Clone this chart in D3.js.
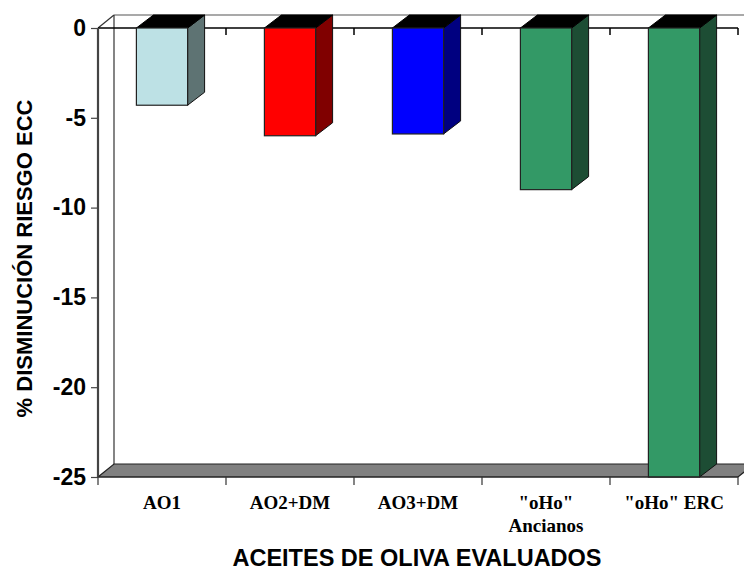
<!DOCTYPE html>
<html>
<head>
<meta charset="utf-8">
<script src="https://cdn.jsdelivr.net/npm/d3@7"></script>
<style>
  html, body { margin: 0; padding: 0; background: #fff; }
  svg { display: block; }
</style>
</head>
<body>
<svg id="chart" width="744" height="571"></svg>
<script>
// Olive oil evaluation: % reduction in cardiovascular risk
const categories = ['AO1', 'AO2+DM', 'AO3+DM', '"oHo" Ancianos', '"oHo" ERC'];
const categoryLines = [['AO1'], ['AO2+DM'], ['AO3+DM'], ['"oHo"', 'Ancianos'], ['"oHo" ERC']];
const values = [-4.3, -6.0, -5.9, -9.0, -25.0];
const frontColors = ['#bde1e5', '#ff0000', '#0000ff', '#339966', '#339966'];
const sideColors = ['#5e7373', '#800000', '#000080', '#1d4d34', '#1d4d34'];
const yTicks = [0, -5, -10, -15, -20, -25];
const yTitle = '% DISMINUCIÓN RIESGO ECC';
const xTitle = 'ACEITES DE OLIVA EVALUADOS';

const svg = d3.select('#chart');
const plotL = 98, plotR = 738, plotT = 28, plotB = 477;
const wdx = 16, wdy = 13;   // wall depth
const bdx = 17, bdy = 13;   // bar depth

const y = d3.scaleLinear().domain([0, -25]).range([plotT, plotB]);
const x = d3.scaleBand().domain(categories).range([plotL, plotR]).padding(0);
const bw = x.bandwidth() * 0.4;

// back wall edges
const walls = svg.append('g').attr('stroke', '#333').attr('stroke-width', 1.2).attr('fill', 'none');
walls.append('line').attr('x1', plotL + wdx).attr('y1', plotT - wdy).attr('x2', plotL + wdx).attr('y2', plotB - wdy);
walls.append('line').attr('x1', plotL + wdx).attr('y1', plotT - wdy).attr('x2', 760).attr('y2', plotT - wdy).attr('stroke', '#555');
walls.append('line').attr('x1', plotL).attr('y1', plotT).attr('x2', plotL + wdx).attr('y2', plotT - wdy);

// floor
svg.append('path')
  .attr('d', `M${plotL},${plotB}L${plotR},${plotB}L${plotR + wdx},${plotB - wdy}L${plotL + wdx},${plotB - wdy}Z`)
  .attr('fill', '#808080').attr('stroke', '#222').attr('stroke-width', 1.2);

// zero line with category separators
const zero = svg.append('g').attr('stroke', '#000').attr('stroke-width', 1.5);
zero.append('line').attr('x1', plotL).attr('y1', y(0)).attr('x2', plotR).attr('y2', y(0));
categories.forEach(c => {
  const bx = x(c) + x.bandwidth();
  zero.append('line').attr('x1', bx).attr('y1', y(0)).attr('x2', bx).attr('y2', y(0) + 7);
});

// 3D bars
const bars = svg.append('g').selectAll('g').data(categories).join('g');
bars.each(function (c, i) {
  const g = d3.select(this);
  const x0 = x(c) + (x.bandwidth() - bw) / 2;
  const x1 = x0 + bw;
  const y0 = y(0), y1 = y(values[i]);
  g.append('path')
    .attr('d', `M${x1},${y0}L${x1 + bdx},${y0 - bdy}L${x1 + bdx},${y1 - bdy}L${x1},${y1}Z`)
    .attr('fill', sideColors[i]).attr('stroke', '#111').attr('stroke-width', 1);
  g.append('path')
    .attr('d', `M${x0},${y0}L${x0 + bdx},${y0 - bdy}L${x1 + bdx},${y0 - bdy}L${x1},${y0}Z`)
    .attr('fill', '#000').attr('stroke', '#000').attr('stroke-width', 1);
  g.append('rect')
    .attr('x', x0).attr('y', y0).attr('width', bw).attr('height', y1 - y0)
    .attr('fill', frontColors[i]).attr('stroke', '#222').attr('stroke-width', 1.2);
});

// y axis
const yAxis = svg.append('g')
  .attr('transform', `translate(${plotL},0)`)
  .call(d3.axisLeft(y).tickValues(yTicks).tickSize(7).tickPadding(5).tickFormat(d => String(d)));
yAxis.select('.domain').attr('stroke', '#444').attr('stroke-width', 2.2).attr('d', `M0,${plotT}V${plotB}`);
yAxis.selectAll('.tick line').attr('stroke', '#444').attr('stroke-width', 1.2);
yAxis.selectAll('.tick text')
  .attr('fill', '#000')
  .style('font-family', '"Liberation Sans", Arial, sans-serif')
  .style('font-weight', 'bold')
  .style('font-size', '23px');

// x axis
const xa = svg.append('g').attr('stroke', '#333').attr('stroke-width', 1.2);
xa.append('line').attr('x1', plotL).attr('y1', plotB).attr('x2', plotR).attr('y2', plotB).attr('stroke', '#222');
[plotL].concat(categories.map(c => x(c) + x.bandwidth())).forEach(bx => {
  xa.append('line').attr('x1', bx).attr('y1', plotB).attr('x2', bx).attr('y2', plotB + 8);
});

const labels = svg.append('g')
  .style('font-family', '"Liberation Serif", "Times New Roman", serif')
  .style('font-weight', 'bold')
  .style('font-size', '19px')
  .attr('text-anchor', 'middle');
categories.forEach((c, i) => {
  const t = labels.append('text').attr('x', x(c) + x.bandwidth() / 2).attr('y', 509);
  categoryLines[i].forEach((ln, k) => {
    t.append('tspan').attr('x', x(c) + x.bandwidth() / 2).attr('dy', k === 0 ? 0 : 23).text(ln);
  });
});

// axis titles, centred on their axes
svg.append('text')
  .attr('transform', `translate(32,${(plotT + plotB) / 2 + 6}) rotate(-90)`)
  .attr('text-anchor', 'middle')
  .style('font-family', '"Liberation Sans", Arial, sans-serif')
  .style('font-weight', 'bold')
  .style('font-size', '22px')
  .text(yTitle);

svg.append('text')
  .attr('x', 417).attr('y', 566)
  .attr('text-anchor', 'middle')
  .style('font-family', '"Liberation Sans", Arial, sans-serif')
  .style('font-weight', 'bold')
  .style('font-size', '23.5px')
  .text(xTitle);
</script>
</body>
</html>
